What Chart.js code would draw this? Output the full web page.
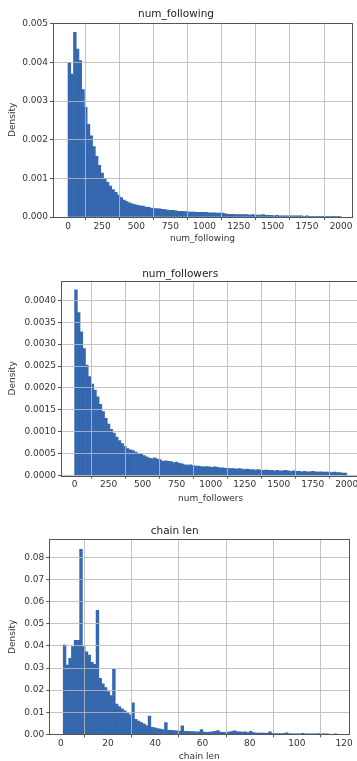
<!DOCTYPE html>
<html>
<head>
<meta charset="utf-8">
<script src="https://cdn.jsdelivr.net/npm/chart.js@4"></script>
<style>
  html, body { margin: 0; padding: 0; background: #fff; overflow: hidden; }
  body { width: 357px; height: 761px; position: relative; }
  .panel { position: absolute; left: 0; }
</style>
</head>
<body>
<div class="panel" style="top:0;width:357px;height:250px"><canvas id="chart1"></canvas></div>
<div class="panel" style="top:250px;width:366px;height:260px"><canvas id="chart2"></canvas></div>
<div class="panel" style="top:505px;width:357px;height:265px"><canvas id="chart3"></canvas></div>
<script>
// num_following: 100 bins, width 20, from 0
const followingBinStart = 0;
const followingBinWidth = 20;
const followingDensity = [
  0.00400, 0.00370, 0.00478, 0.00435, 0.00405, 0.00330, 0.00284, 0.00240, 0.00210, 0.00182,
  0.00157, 0.00134, 0.00114, 0.00100, 0.00090, 0.00080, 0.00071, 0.00064, 0.00057, 0.00050,
  0.00044, 0.00040, 0.00037, 0.00034, 0.00032, 0.00030, 0.00029, 0.00028, 0.00026, 0.00025,
  0.00023, 0.00022, 0.00022, 0.00021, 0.00020, 0.00019, 0.00018, 0.00017, 0.00017, 0.00016,
  0.00015, 0.00015, 0.00014, 0.00014, 0.00013, 0.00013, 0.00013, 0.00012, 0.00012, 0.00012,
  0.00012, 0.00011, 0.00011, 0.00011, 0.00010, 0.00010, 0.00010, 0.00009, 0.00007, 0.00007,
  0.00007, 0.00006, 0.00006, 0.00006, 0.00006, 0.00006, 0.00005, 0.00006, 0.00005, 0.00005,
  0.00005, 0.00006, 0.00004, 0.00004, 0.00004, 0.00003, 0.00004, 0.00003, 0.00003, 0.00003,
  0.00003, 0.00003, 0.00003, 0.00003, 0.00003, 0.00003, 0.00002, 0.00003, 0.00002, 0.00002,
  0.00002, 0.00002, 0.00002, 0.00002, 0.00002, 0.00002, 0.00002, 0.00001, 0.00002, 0.00002
];
const followingXTicks = [0, 250, 500, 750, 1000, 1250, 1500, 1750, 2000];
const followingYTicks = [0, 0.001, 0.002, 0.003, 0.004, 0.005];

// num_followers: 100 bins, width 20, from 0
const followersBinStart = 0;
const followersBinWidth = 20;
const followersDensity = [
  0.00424, 0.00372, 0.00328, 0.00290, 0.00252, 0.00226, 0.00209, 0.00195, 0.00180, 0.00163,
  0.00146, 0.00131, 0.00118, 0.00106, 0.00097, 0.00088, 0.00080, 0.00073, 0.00067, 0.00062,
  0.00059, 0.00057, 0.00054, 0.00051, 0.00049, 0.00046, 0.00043, 0.00040, 0.00039, 0.00041,
  0.00038, 0.00036, 0.00033, 0.00034, 0.00033, 0.00032, 0.00030, 0.00031, 0.00028, 0.00027,
  0.00025, 0.00024, 0.00025, 0.00023, 0.00022, 0.00022, 0.00021, 0.00020, 0.00021, 0.00020,
  0.00019, 0.00020, 0.00019, 0.00018, 0.00018, 0.00017, 0.00017, 0.00016, 0.00016, 0.00015,
  0.00016, 0.00015, 0.00014, 0.00015, 0.00014, 0.00014, 0.00013, 0.00014, 0.00013, 0.00012,
  0.00013, 0.00012, 0.00012, 0.00011, 0.00012, 0.00011, 0.00011, 0.00012, 0.00011, 0.00010,
  0.00011, 0.00010, 0.00010, 0.00009, 0.00010, 0.00009, 0.00009, 0.00010, 0.00009, 0.00008,
  0.00009, 0.00008, 0.00008, 0.00008, 0.00007, 0.00008, 0.00007, 0.00007, 0.00006, 0.00006
];
const followersXTicks = [0, 250, 500, 750, 1000, 1250, 1500, 1750, 2000];
const followersYTicks = [0, 0.0005, 0.001, 0.0015, 0.002, 0.0025, 0.003, 0.0035, 0.004];

// chain len: 100 bins, width 1.16, from 1
const chainBinStart = 1;
const chainBinWidth = 1.16;
const chainDensity = [
  0.0405, 0.0314, 0.0344, 0.0397, 0.0425, 0.0425, 0.0838, 0.0397, 0.0374, 0.0359,
  0.0326, 0.0317, 0.0561, 0.0254, 0.0228, 0.0211, 0.0193, 0.0175, 0.0294, 0.0137,
  0.0125, 0.0115, 0.0106, 0.0095, 0.0088, 0.0142, 0.0068, 0.0060, 0.0053, 0.0047,
  0.0039, 0.0083, 0.0032, 0.0029, 0.0026, 0.0024, 0.0021, 0.0053, 0.0018, 0.0018,
  0.0017, 0.0016, 0.0015, 0.0038, 0.0014, 0.0013, 0.0012, 0.0012, 0.0011, 0.0011,
  0.0021, 0.0010, 0.0009, 0.0010, 0.0011, 0.0013, 0.0017, 0.0010, 0.0009, 0.0008,
  0.0010, 0.0012, 0.0016, 0.0012, 0.0011, 0.0010, 0.0011, 0.0008, 0.0013, 0.0008,
  0.0006, 0.0006, 0.0005, 0.0005, 0.0004, 0.0011, 0.0004, 0.0003, 0.0003, 0.0003,
  0.0003, 0.0007, 0.0003, 0.0002, 0.0002, 0.0002, 0.0002, 0.0004, 0.0002, 0.0002,
  0.0001, 0.0002, 0.0001, 0.0003, 0.0001, 0.0001, 0.0001, 0, 0, 0.0001
];
const chainXTicks = [0, 20, 40, 60, 80, 100, 120];
const chainYTicks = [0, 0.01, 0.02, 0.03, 0.04, 0.05, 0.06, 0.07, 0.08];

const barColor = '#3568ae';
const gridColor = 'rgba(185,185,185,0.85)';
const frameColor = '#555';
const textColor = '#333';

Chart.defaults.font.family = "'DejaVu Sans', sans-serif";

// bin centres for a histogram
function binPoints(start, width, values) {
  return values.map((v, i) => ({ x: start + width * (i + 0.5), y: v }));
}

// box round the plot area, like the matplotlib spines
const framePlugin = {
  id: 'frame',
  afterDraw(chart) {
    const { ctx, chartArea: a } = chart;
    ctx.save();
    ctx.strokeStyle = frameColor;
    ctx.lineWidth = 1;
    ctx.strokeRect(Math.round(a.left) + 0.5, Math.round(a.top) + 0.5,
      Math.round(a.right - a.left), Math.round(a.bottom - a.top));
    ctx.restore();
  }
};

function histogram(id, c) {
  return new Chart(document.getElementById(id), {
    type: 'bar',
    data: {
      datasets: [{
        data: binPoints(c.start, c.width, c.values),
        backgroundColor: barColor,
        borderWidth: 0,
        barPercentage: 1,
        categoryPercentage: 1,
        grouped: false
      }]
    },
    plugins: [framePlugin],
    options: {
      responsive: true,
      maintainAspectRatio: false,
      animation: false,
      events: [],
      layout: { padding: { left: 0, right: c.padRight, top: 0, bottom: 0 } },
      plugins: {
        legend: { display: false },
        tooltip: { enabled: false },
        title: {
          display: true,
          text: c.title,
          color: '#222',
          font: { size: 10.5, weight: 'normal' },
          padding: { top: c.titleTop, bottom: c.titleBottom }
        }
      },
      scales: {
        x: {
          type: 'linear',
          min: c.xMin,
          max: c.xMax,
          offset: false,
          afterBuildTicks: s => { s.ticks = c.xTicks.map(v => ({ value: v })); },
          afterFit: s => { s.height = c.xAxisHeight; },
          grid: { color: gridColor, z: 1, tickLength: 3, tickColor: frameColor },
          border: { display: false },
          ticks: {
            color: textColor, font: { size: 9 }, padding: 1,
            maxRotation: 0, autoSkip: false,
            callback: v => String(v)
          },
          title: {
            display: true, text: c.xLabel, color: textColor,
            font: { size: 9 }, padding: { top: 0, bottom: c.xLabelBottom }
          }
        },
        y: {
          min: 0,
          max: c.yMax,
          afterBuildTicks: s => { s.ticks = c.yTicks.map(v => ({ value: v })); },
          afterFit: s => { s.width = c.yAxisWidth; },
          grid: { color: gridColor, z: 1, tickLength: 3, tickColor: frameColor },
          border: { display: false },
          ticks: {
            color: textColor, font: { size: 9 }, padding: 2,
            autoSkip: false,
            callback: v => v.toFixed(c.decimals)
          },
          title: {
            display: true, text: 'Density', color: textColor,
            font: { size: 9 }, padding: { top: 7.6, bottom: 0 }
          }
        }
      }
    }
  });
}

histogram('chart1', {
  title: 'num_following', xLabel: 'num_following',
  start: followingBinStart, width: followingBinWidth, values: followingDensity,
  xTicks: followingXTicks, yTicks: followingYTicks,
  xMin: -110, xMax: 2080, yMax: 0.00503, decimals: 3,
  padRight: 5, titleTop: 7.7, titleBottom: 2.4,
  xAxisHeight: 33, xLabelBottom: 5.6, yAxisWidth: 53
});

histogram('chart2', {
  title: 'num_followers', xLabel: 'num_followers',
  start: followersBinStart, width: followersBinWidth, values: followersDensity,
  xTicks: followersXTicks, yTicks: followersYTicks,
  xMin: -100, xMax: 2100, yMax: 0.00444, decimals: 4,
  padRight: 5.7, titleTop: 17.7, titleBottom: 0.7,
  xAxisHeight: 34.3, xLabelBottom: 5.6, yAxisWidth: 61
});

histogram('chart3', {
  title: 'chain len', xLabel: 'chain len',
  start: chainBinStart, width: chainBinWidth, values: chainDensity,
  xTicks: chainXTicks, yTicks: chainYTicks,
  xMin: -4.9, xMax: 122.2, yMax: 0.0883, decimals: 2,
  padRight: 7.7, titleTop: 20.4, titleBottom: 1.3,
  xAxisHeight: 35.7, xLabelBottom: 7.6, yAxisWidth: 49.3
});
</script>
</body>
</html>
